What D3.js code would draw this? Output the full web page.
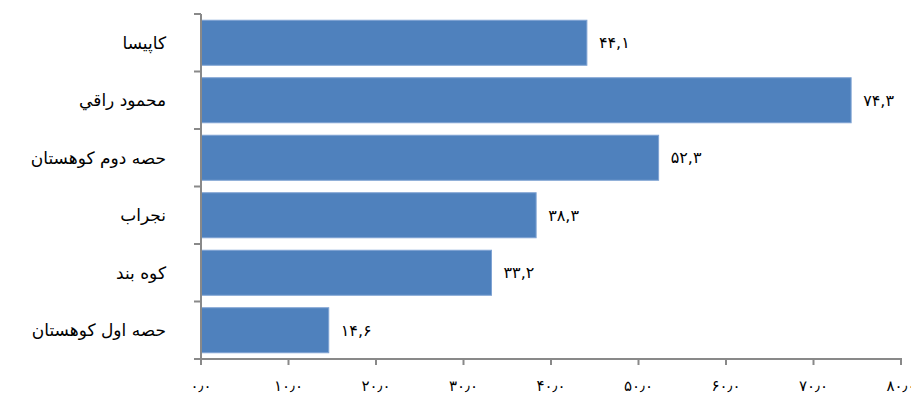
<!DOCTYPE html>
<html><head><meta charset="utf-8">
<script src="https://cdn.jsdelivr.net/npm/d3@7"></script>
<style>body{margin:0;background:#fff}svg{display:block}</style>
</head><body>
<svg id="c" width="911" height="394"></svg>
<script>
const categories = ["کاپیسا","محمود راقي","حصه دوم کوهستان","نجراب","کوه بند","حصه اول کوهستان"];
const values = [44.1,74.3,52.3,38.3,33.2,14.6];
const valueLabels = ["۴۴,۱","۷۴,۳","۵۲,۳","۳۸,۳","۳۳,۲","۱۴,۶"];
const tickValues = [0,10,20,30,40,50,60,70,80];
const tickLabels = ["۰٫۰","۱۰٫۰","۲۰٫۰","۳۰٫۰","۴۰٫۰","۵۰٫۰","۶۰٫۰","۷۰٫۰","۸۰٫۰"];

const svg = d3.select("#c");
const font = "'DejaVu Sans', 'Noto Sans', sans-serif";
const x = d3.scaleLinear().domain([0,80]).range([201,901]);
const y = d3.scaleBand().domain(categories).range([14,359]).paddingInner(0.217).paddingOuter(0.1085);
const yTicks = d3.scaleBand().domain(categories).range([14,359]);

// bars
svg.selectAll("rect.bar").data(values).join("rect")
  .attr("class","bar")
  .attr("x",x(0)).attr("y",(d,i)=>y(categories[i]))
  .attr("width",d=>x(d)-x(0)).attr("height",y.bandwidth())
  .attr("fill","#4F81BD").attr("stroke","#7FA3D3").attr("stroke-width",1);

// y axis line and ticks
const ax = svg.append("g").attr("stroke","#898989").attr("stroke-width",2);
ax.append("line").attr("x1",x(0)).attr("x2",x(0)).attr("y1",14).attr("y2",360);
const bounds = categories.map(c=>yTicks(c)).concat([359]);
ax.selectAll("line.yt").data(bounds).join("line").attr("class","yt")
  .attr("x1",x(0)-7).attr("x2",x(0)).attr("y1",d=>d).attr("y2",d=>d);
// x axis line and ticks
ax.append("line").attr("x1",x(0)-7).attr("x2",x(80)+1).attr("y1",359).attr("y2",359);
ax.selectAll("line.xt").data(tickValues).join("line").attr("class","xt")
  .attr("x1",d=>x(d)).attr("x2",d=>x(d)).attr("y1",359).attr("y2",365);

// x tick labels
svg.selectAll("text.xl").data(tickValues).join("text").attr("class","xl")
  .attr("x",d=>x(d)).attr("y",391).attr("text-anchor","middle")
  .attr("font-family",font).attr("font-size",15).attr("fill","#000")
  .text((d,i)=>tickLabels[i]);

// category labels
svg.selectAll("text.cl").data(categories).join("text").attr("class","cl")
  .attr("x",166).attr("y",d=>y(d)+y.bandwidth()/2).attr("dy","0.35em")
  .attr("text-anchor","end").attr("font-family",font).attr("font-size",17).attr("fill","#000")
  .text(d=>d);

// value labels
svg.selectAll("text.vl").data(values).join("text").attr("class","vl")
  .attr("x",d=>x(d)+12).attr("y",(d,i)=>y(categories[i])+y.bandwidth()/2).attr("dy","0.35em")
  .attr("font-family",font).attr("font-size",16).attr("fill","#000")
  .text((d,i)=>valueLabels[i]);
</script>
</body></html>
